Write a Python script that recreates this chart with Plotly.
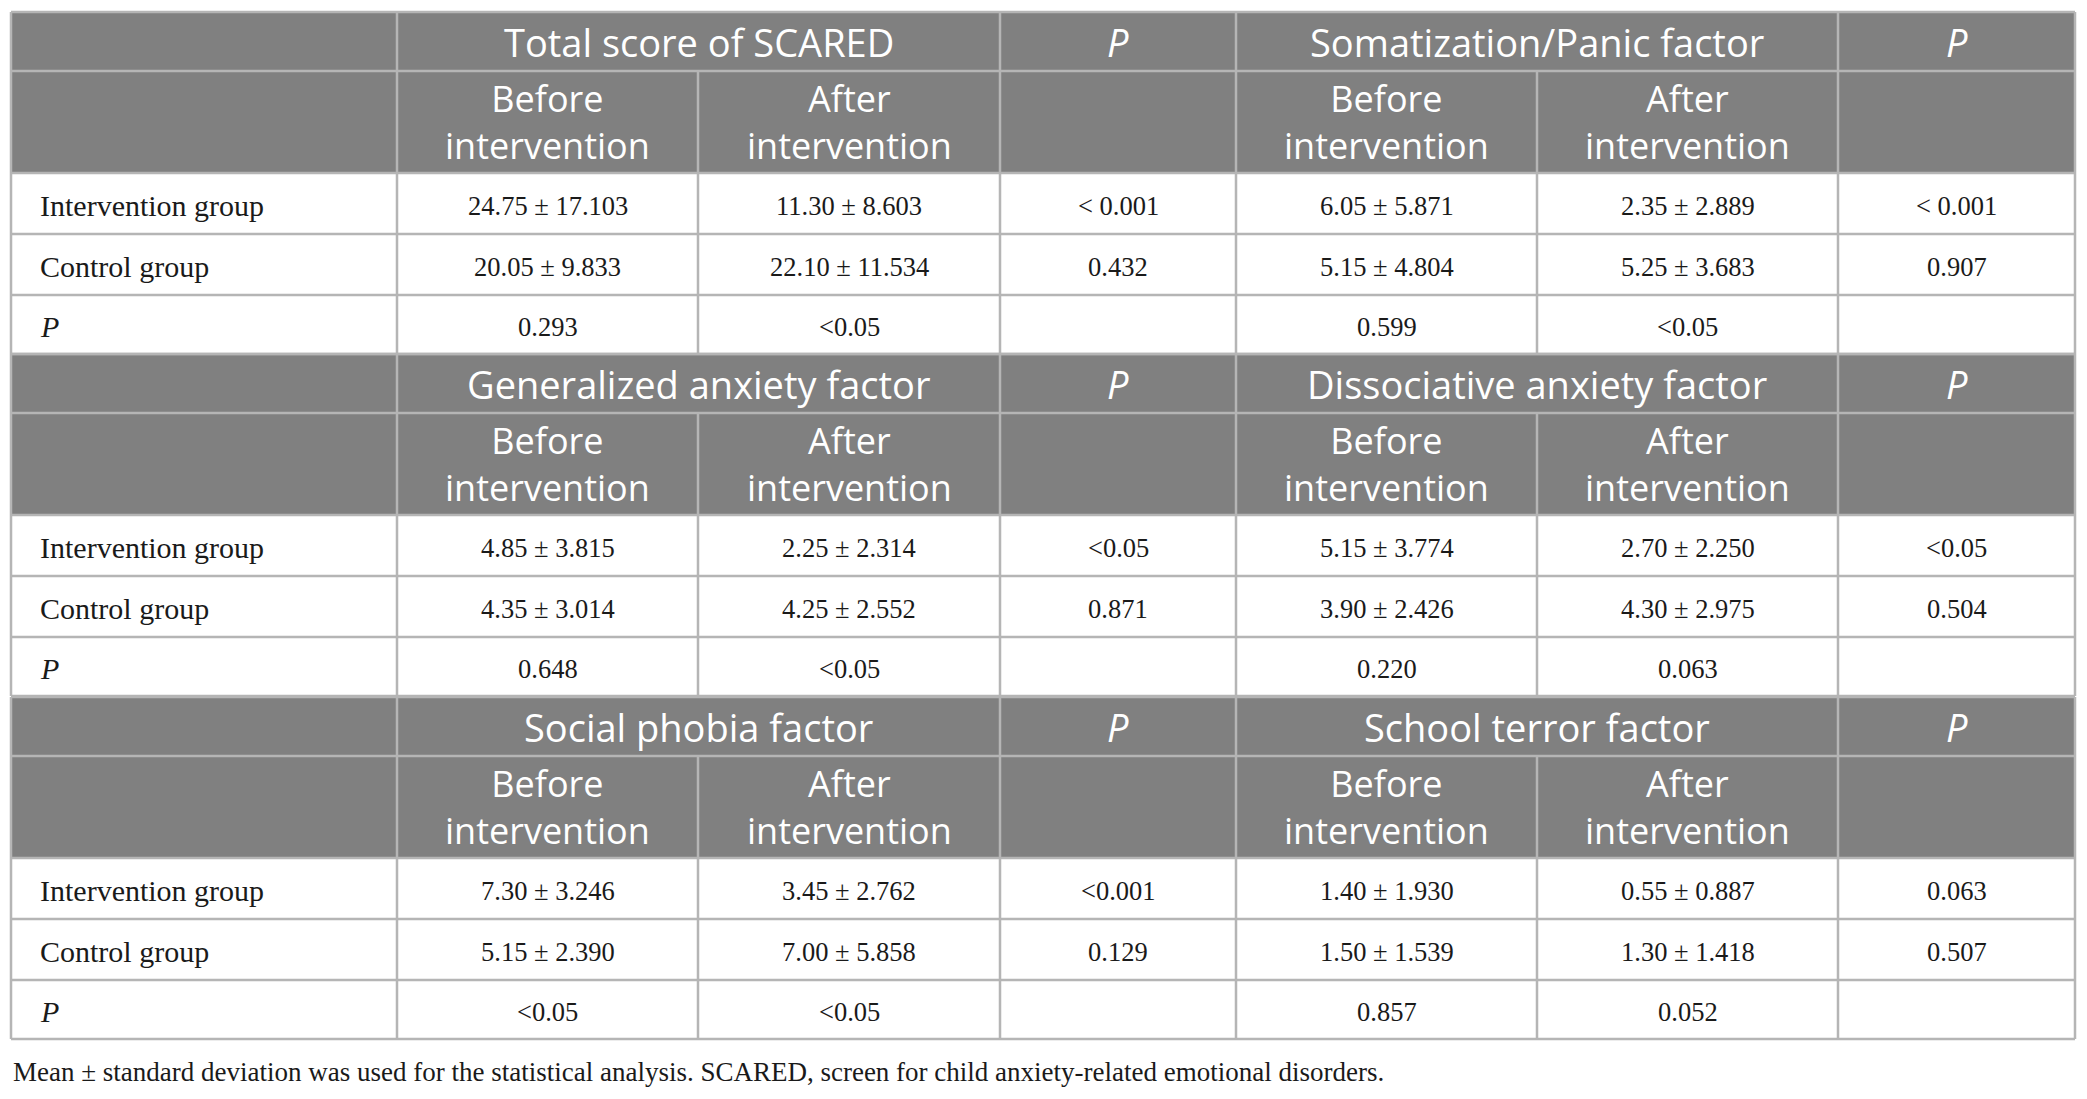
import plotly.graph_objects as go

# table content
factors = ["Total score of SCARED", "Somatization/Panic factor",
           "Generalized anxiety factor", "Dissociative anxiety factor",
           "Social phobia factor", "School terror factor"]
row_labels = ["Intervention group", "Control group", "<i>P</i>"]
sub_headers = ["Before<br>intervention", "After<br>intervention"]

int_before = ["24.75 ± 17.103", "6.05 ± 5.871", "4.85 ± 3.815", "5.15 ± 3.774", "7.30 ± 3.246", "1.40 ± 1.930"]
int_after = ["11.30 ± 8.603", "2.35 ± 2.889", "2.25 ± 2.314", "2.70 ± 2.250", "3.45 ± 2.762", "0.55 ± 0.887"]
int_p = ["< 0.001", "< 0.001", "<0.05", "<0.05", "<0.001", "0.063"]
ctrl_before = ["20.05 ± 9.833", "5.15 ± 4.804", "4.35 ± 3.014", "3.90 ± 2.426", "5.15 ± 2.390", "1.50 ± 1.539"]
ctrl_after = ["22.10 ± 11.534", "5.25 ± 3.683", "4.25 ± 2.552", "4.30 ± 2.975", "7.00 ± 5.858", "1.30 ± 1.418"]
ctrl_p = ["0.432", "0.907", "0.871", "0.504", "0.129", "0.507"]
group_p_before = ["0.293", "0.599", "0.648", "0.220", "<0.05", "0.857"]
group_p_after = ["<0.05", "<0.05", "<0.05", "0.063", "<0.05", "0.052"]

footnote = ("Mean ± standard deviation was used for the statistical analysis. "
            "SCARED, screen for child anxiety-related emotional disorders.")

# geometry, in page pixels (the page body has an 8px margin, so axes start at 8)
W, H = 2087, 1099
OFF = 8
col_x = [11, 397, 698, 1000, 1236, 1537, 1838, 2075]
block_top = [12, 354, 697]
row_off = [0, 59, 161, 222, 283, 342]

HEAD_BG = "#808080"
LINE = "#b5b5b5"
SANS = "Open Sans"
SERIF = "Liberation Serif"
TXT = "#1a1a1a"

fig = go.Figure()
shapes = []
annos = []


def line(x0, y0, x1, y1):
    shapes.append(dict(type="line", xref="x", yref="y", x0=x0, y0=y0, x1=x1, y1=y1,
                       line=dict(color=LINE, width=2.5), layer="above"))


def text(x, y, s, family, size, color, anchor="center"):
    annos.append(dict(x=x, y=y, xref="x", yref="y", text=s, showarrow=False,
                      xanchor=anchor, yanchor="middle", align=anchor,
                      font=dict(family=family, size=size, color=color)))


for b, top in enumerate(block_top):
    ys = [top + o for o in row_off]
    shapes.append(dict(type="rect", xref="x", yref="y", x0=col_x[0], x1=col_x[-1],
                       y0=ys[0], y1=ys[2], fillcolor=HEAD_BG, line=dict(width=0), layer="below"))
    for y in ys:
        line(col_x[0], y, col_x[-1], y)
    for i, x in enumerate(col_x):
        if i in (2, 5):
            line(x, ys[1], x, ys[-1])
        else:
            line(x, ys[0], x, ys[-1])

    fl, fr = 2 * b, 2 * b + 1
    yh1 = (ys[0] + ys[1]) / 2
    yh2 = (ys[1] + ys[2]) / 2
    # header rows
    for k, f in enumerate([fl, fr]):
        c0 = 1 + 3 * k
        text((col_x[c0] + col_x[c0 + 2]) / 2, yh1, factors[f], SANS, 38, "white")
        text((col_x[c0 + 2] + col_x[c0 + 3]) / 2, yh1, "<i>P</i>", SANS, 38, "white")
        for j, sh in enumerate(sub_headers):
            xc = (col_x[c0 + j] + col_x[c0 + j + 1]) / 2
            text(xc, yh2, sh, SANS, 36, "white")

    # body rows
    for r in range(3):
        yc = (ys[2 + r] + ys[3 + r]) / 2 + 2
        text(col_x[0] + 27, yc, row_labels[r], SERIF, 30, TXT, anchor="left")
        for k, f in enumerate([fl, fr]):
            c0 = 1 + 3 * k
            vals = [[int_before[f], int_after[f], int_p[f]],
                    [ctrl_before[f], ctrl_after[f], ctrl_p[f]],
                    [group_p_before[f], group_p_after[f], ""]][r]
            for j, v in enumerate(vals):
                if v:
                    text((col_x[c0 + j] + col_x[c0 + j + 1]) / 2, yc, v, SERIF, 26.5, TXT)

text(col_x[0], 1072, footnote, SERIF, 27, TXT, anchor="left")

fig.update_layout(
    width=W, height=H,
    margin=dict(l=0, r=0, t=0, b=0),
    paper_bgcolor="white", plot_bgcolor="white",
    xaxis=dict(range=[OFF, W + OFF], visible=False, fixedrange=True),
    yaxis=dict(range=[H + OFF, OFF], visible=False, fixedrange=True),
    shapes=shapes, annotations=annos, showlegend=False,
)

fig.write_html("out.html")
